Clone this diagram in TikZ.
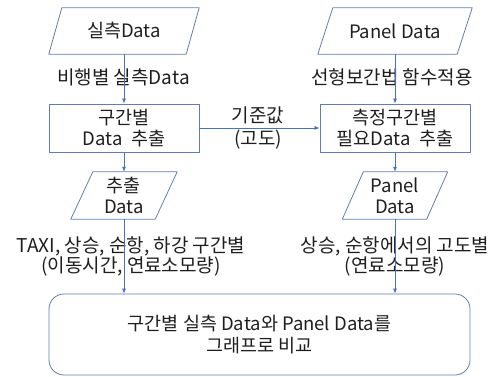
\documentclass[tikz,border=0pt]{standalone}
\usepackage{fontspec}
\setmainfont{Noto Sans CJK KR}
\usetikzlibrary{calc,arrows.meta}
\definecolor{edgec}{RGB}{100,126,172}
\definecolor{arrc}{RGB}{72,114,190}
\definecolor{txt}{RGB}{30,30,30}
\begin{document}
\begin{tikzpicture}[x=1pt,y=-1pt,
  every node/.style={text=txt, align=center, inner sep=0pt},
  boxtxt/.style={font=\fontsize{18.5}{21}\selectfont},
  lbltxt/.style={font=\fontsize{19}{17}\selectfont},
  box/.style={boxtxt, draw=edgec, line width=0.8pt},
  pframe/.style={boxtxt, draw=none},
  pline/.style={draw=edgec, line width=0.8pt, line join=round},
  arr/.style={draw=arrc, line width=0.7pt, -{Latex[length=5pt,width=4pt]}}
]
\useasboundingbox (0,0) rectangle (496,377);

% left column
\node[pframe, minimum width=150, minimum height=46] (p1) at (124,31) {실측Data};
\draw[pline] (p1.south west) -- ($(p1.north west)+(13,0)$) -- (p1.north east) -- ($(p1.south east)-(13,0)$) -- cycle;

\node[box, minimum width=150, minimum height=48] (b1) at (124,128) {구간별\\Data\ \ 추출};

\node[pframe, minimum width=106, minimum height=47] (p2) at (124,195.5) {추출\\Data};
\draw[pline] (p2.south west) -- ($(p2.north west)+(22,0)$) -- (p2.north east) -- ($(p2.south east)-(22,0)$) -- cycle;

% right column
\node[pframe, minimum width=154, minimum height=46] (p3) at (395,31) {Panel Data};
\draw[pline] (p3.south west) -- ($(p3.north west)+(15,0)$) -- (p3.north east) -- ($(p3.south east)-(15,0)$) -- cycle;

\node[box, minimum width=150, minimum height=48] (b2) at (395,128) {측정구간별\\필요Data\ \ 추출};

\node[pframe, minimum width=105, minimum height=47] (p4) at (395,195.5) {Panel\\Data};
\draw[pline] (p4.south west) -- ($(p4.north west)+(21,0)$) -- (p4.north east) -- ($(p4.south east)-(21,0)$) -- cycle;

% bottom box
\node[draw=edgec, line width=0.8pt, rounded corners=15pt, minimum width=421, minimum height=81,
      font=\fontsize{18.5}{22}\selectfont] (big) at (259.5,334.5)
      {구간별 실측 Data와 Panel Data를\\그래프로 비교};

% labels
\node[lbltxt] (l1) at (123.5,77) {비행별 실측Data};
\node[lbltxt] (l2) at (392,77) {선형보간법 함수적용};
\node[lbltxt] (l3a) at (258,115) {기준값};
\node[lbltxt] (l3b) at (258,140) {(고도)};
\node[lbltxt] (l4) at (131,256.5) {TAXI, 상승, 순항, 하강 구간별\\(이동시간, 연료소모량)};
\node[lbltxt] (l5) at (395,256.5) {상승, 순항에서의 고도별\\(연료소모량)};

% connectors
\draw[arr] (p1.south) -- (b1.north);
\draw[arr] (b1.south) -- (p2.north);
\draw[arr] (p2.south) -- (p2.south |- big.north);
\draw[arr] (p3.south) -- (b2.north);
\draw[arr] (b2.south) -- (p4.north);
\draw[arr] (p4.south) -- (p4.south |- big.north);
\draw[arr] (b1.east) -- (b2.west);
\end{tikzpicture}
\end{document}
